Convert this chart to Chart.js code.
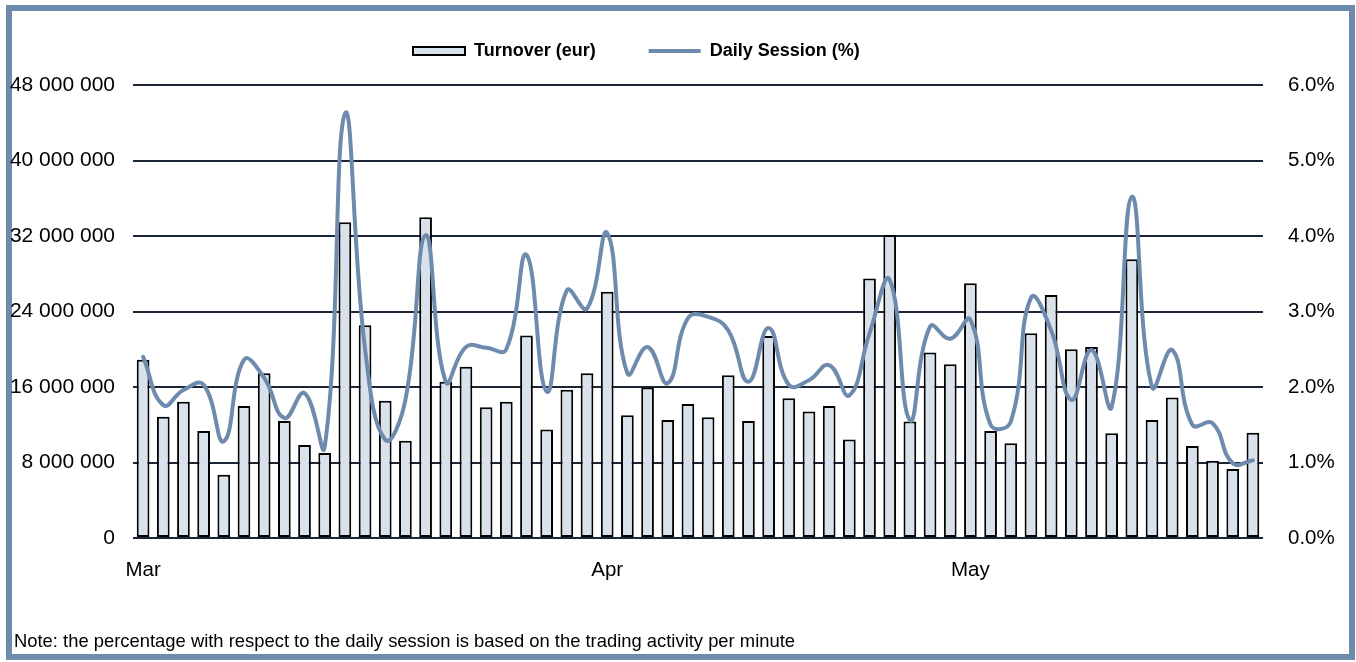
<!DOCTYPE html>
<html>
<head>
<meta charset="utf-8">
<script src="https://cdn.jsdelivr.net/npm/chart.js@4/dist/chart.umd.min.js"></script>
<style>
  html, body { margin: 0; padding: 0; background: #fff; }
  #frame { position: absolute; left: 6px; top: 5px; width: 1337px; height: 643px; border: 6px solid #6e8bad; }
  #wrap { position: absolute; left: 0; top: 0; width: 1356px; height: 662px; }
</style>
</head>
<body>
<div id="frame"></div>
<div id="wrap"><canvas id="myChart"></canvas></div>
<script>
// one bar per trading day, Mar -> May
var days = ['Mar','','','','','','','','','','','','','','','','','','','','','','',
            'Apr','','','','','','','','','','','','','','','','','',
            'May','','','','','','','','','','','','','',''];

var turnover = [18900000, 12850000, 14450000, 11350000, 6700000, 14000000, 17450000, 12400000,
                9850000, 9000000, 33450000, 22550000, 14550000, 10300000, 34000000, 16550000,
                18150000, 13850000, 14450000, 21450000, 11500000, 15700000, 17450000, 26100000,
                13000000, 15950000, 12500000, 14200000, 12800000, 17250000, 12400000, 21400000,
                14800000, 13400000, 14000000, 10450000, 27500000, 32100000, 12350000, 19650000,
                18400000, 27000000, 11350000, 10050000, 21700000, 25750000, 20000000, 20250000,
                11100000, 29550000, 12500000, 14900000, 9750000, 8200000, 7300000, 11150000];

var session = [2.40, 1.76, 1.96, 2.03, 1.28, 2.36, 2.12, 1.59, 1.92, 1.21, 5.62, 2.50, 1.30, 1.83,
               4.01, 2.07, 2.53, 2.52, 2.50, 3.75, 1.94, 3.28, 3.04, 4.04, 2.18, 2.53, 2.05, 2.91,
               2.93, 2.75, 2.07, 2.78, 2.03, 2.09, 2.29, 1.89, 2.71, 3.42, 1.56, 2.80, 2.64, 2.89,
               1.50, 1.54, 3.18, 2.75, 1.83, 2.49, 1.74, 4.52, 2.00, 2.49, 1.50, 1.52, 0.99, 1.03];

var note = 'Note: the percentage with respect to the daily session is based on the trading activity per minute';

Chart.defaults.font.family = "'Liberation Sans', Arial, sans-serif";
Chart.defaults.color = '#000';

// put the legend and the note where excel had them
var placeBoxes = {
    id: 'placeBoxes',
    afterLayout: function(chart) {
        var lg = chart.legend;
        lg.left = 413 - 53;
        lg.right = 1356;
        lg.top = 42 - 53;
        chart.titleBlock.left = 14;
    }
};

function spaced(v){
    return String(v).replace(/\B(?=(\d{3})+(?!\d))/g, ' ');
}

var ctx = document.getElementById('myChart').getContext('2d');
var chart = new Chart(ctx, {
    type: 'bar',
    data: {
        labels: days,
        datasets: [{
            label: 'Turnover (eur)',
            data: turnover,
            backgroundColor: '#d9e2ea',
            borderColor: '#000',
            borderWidth: 2,
            borderSkipped: false,
            barPercentage: 0.63,
            categoryPercentage: 1,
            pointStyle: 'rect',
            yAxisID: 'y',
            order: 1
        },{
            label: 'Daily Session (%)',
            type: 'line',
            data: session,
            borderColor: '#6e8bad',
            backgroundColor: '#6e8bad',
            borderWidth: 4,
            borderCapStyle: 'round',
            pointRadius: 0,
            pointStyle: 'line',
            tension: 0.45,
            yAxisID: 'y1',
            order: 0
        }]
    },
    options: {
        responsive: true,
        maintainAspectRatio: false,
        animation: false,
        layout: { padding: { top: 84, left: 0, right: 0, bottom: 9 } },
        plugins: {
            tooltip: { enabled: false },
            legend: {
                position: 'top',
                align: 'start',
                maxHeight: 1,
                labels: {
                    usePointStyle: true,
                    pointStyleWidth: 52,
                    boxHeight: 8,
                    padding: 53,
                    font: { size: 18, weight: 'bold' },
                    sort: function(a, b){ return a.datasetIndex - b.datasetIndex; }
                }
            },
            title: {
                display: true,
                text: note,
                position: 'bottom',
                align: 'start',
                padding: 0,
                font: { size: 18.4, weight: 'normal' }
            }
        },
        scales: {
            x: {
                grid: { display: false },
                border: { display: false },
                ticks: { autoSkip: false, maxRotation: 0, padding: 12, font: { size: 20.5 } },
                afterFit: function(s){ s.height = 92.9; }
            },
            y: {
                position: 'left',
                min: 0,
                max: 48000000,
                border: { display: false },
                grid: { color: '#1d2636', lineWidth: 2, drawTicks: false },
                ticks: { stepSize: 8000000, padding: 18, font: { size: 21 }, callback: spaced },
                afterFit: function(s){ s.width = 133; }
            },
            y1: {
                position: 'right',
                min: 0,
                max: 6,
                border: { display: false },
                grid: { drawOnChartArea: false, drawTicks: false },
                ticks: { stepSize: 1, padding: 25, font: { size: 20.5 },
                         callback: function(v){ return v.toFixed(1) + '%'; } },
                afterFit: function(s){ s.width = 93; }
            }
        }
    },
    plugins: [placeBoxes]
});
</script>
</body>
</html>
